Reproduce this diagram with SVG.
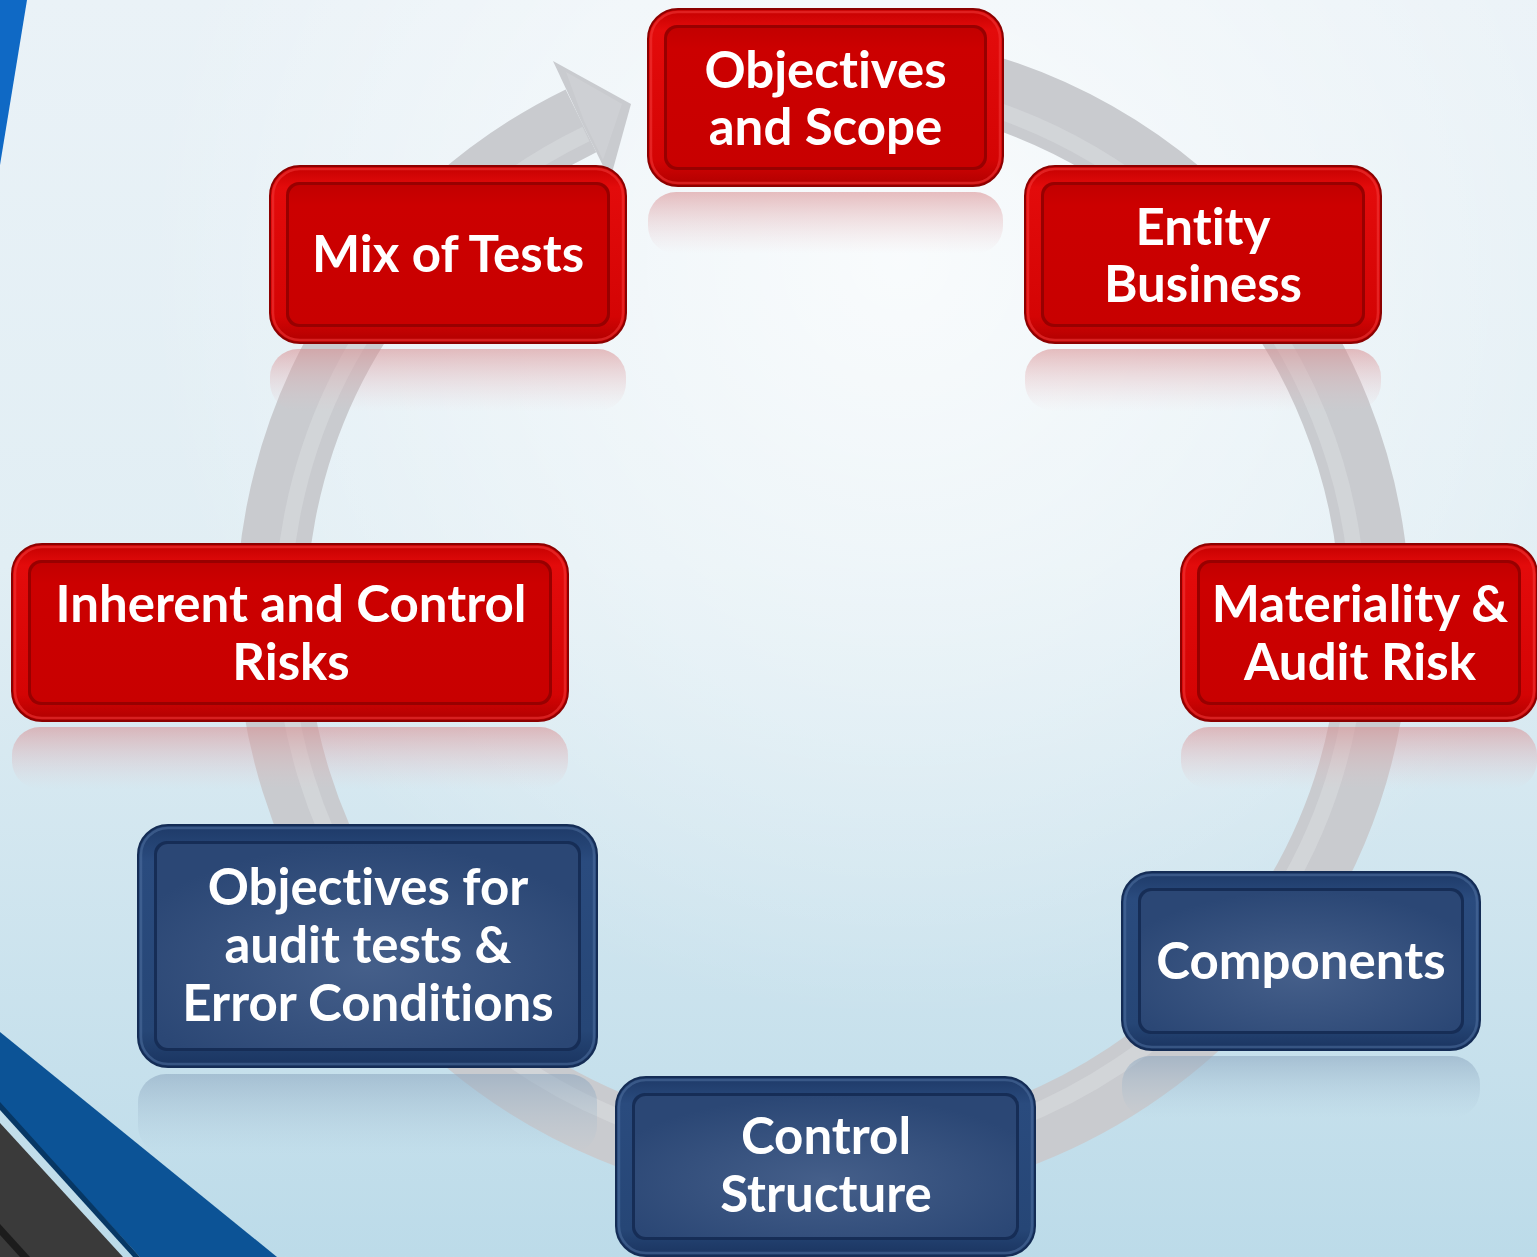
<svg xmlns="http://www.w3.org/2000/svg" width="1537" height="1257" viewBox="0 0 1537 1257">
  <style>
    .lbl { font-family: Lato, "Open Sans", "Liberation Sans", sans-serif; font-weight: 700; font-size: 51px; fill: #ffffff; text-anchor: middle; font-variant-ligatures: none; font-feature-settings: "liga" 0; }
    .red-rim { fill: url(#gRedRim); stroke: #8c0000; stroke-width: 2; }
    .red-hi { fill: none; stroke: #f23a3a; stroke-width: 2.5; opacity: 0.55; }
    .red-groove { fill: #980000; }
    .red-panel { fill: url(#gRedPanel); }
    .blue-rim { fill: url(#gBlueRim); stroke: #142c55; stroke-width: 2; }
    .blue-hi { fill: none; stroke: #4f6f9f; stroke-width: 2.5; opacity: 0.55; }
    .blue-groove { fill: #162d56; }
    .blue-panel { fill: url(#gBluePanel); }
    .refl-red { fill: url(#gReflRed); }
    .refl-blue { fill: url(#gReflBlue); }
  </style>
  <defs>
    <linearGradient id="gBg" x1="0" y1="0" x2="0" y2="1">
      <stop offset="0" stop-color="#eaf2f7"/>
      <stop offset="0.45" stop-color="#e1eef4"/>
      <stop offset="1" stop-color="#bcdbe9"/>
    </linearGradient>
    <radialGradient id="gGlow" cx="900" cy="260" r="760" gradientUnits="userSpaceOnUse">
      <stop offset="0" stop-color="#ffffff" stop-opacity="0.75"/>
      <stop offset="0.6" stop-color="#ffffff" stop-opacity="0.3"/>
      <stop offset="1" stop-color="#ffffff" stop-opacity="0"/>
    </radialGradient>
    <linearGradient id="gRedRim" x1="0" y1="0" x2="0" y2="1">
      <stop offset="0" stop-color="#c40000"/>
      <stop offset="0.12" stop-color="#e30b0b"/>
      <stop offset="0.85" stop-color="#d40404"/>
      <stop offset="1" stop-color="#b00000"/>
    </linearGradient>
    <linearGradient id="gRedPanel" x1="0" y1="0" x2="0" y2="1">
      <stop offset="0" stop-color="#c20000"/>
      <stop offset="0.15" stop-color="#cc0000"/>
      <stop offset="1" stop-color="#c80000"/>
    </linearGradient>
    <linearGradient id="gBlueRim" x1="0" y1="0" x2="0" y2="1">
      <stop offset="0" stop-color="#1e3a68"/>
      <stop offset="0.15" stop-color="#2a4b7e"/>
      <stop offset="0.85" stop-color="#264676"/>
      <stop offset="1" stop-color="#1a3460"/>
    </linearGradient>
    <radialGradient id="gBluePanel" cx="0.5" cy="0.6" r="0.6">
      <stop offset="0" stop-color="#455f8a"/>
      <stop offset="1" stop-color="#2b4775"/>
    </radialGradient>
    <linearGradient id="gReflRed" x1="0" y1="0" x2="0" y2="1">
      <stop offset="0" stop-color="#d88a8c" stop-opacity="0.55"/>
      <stop offset="1" stop-color="#e8c0c4" stop-opacity="0"/>
    </linearGradient>
    <linearGradient id="gReflBlue" x1="0" y1="0" x2="0" y2="1">
      <stop offset="0" stop-color="#8aa4bd" stop-opacity="0.55"/>
      <stop offset="1" stop-color="#aac4d6" stop-opacity="0"/>
    </linearGradient>
  </defs>

  <!-- backdrop -->
  <rect x="0" y="0" width="1537" height="1257" fill="url(#gBg)"/>
  <rect x="0" y="0" width="1537" height="1257" fill="url(#gGlow)"/>

  <!-- corner accents -->
  <polygon points="0,0 27,0 0,165" fill="#0f69c5"/>
  <polygon points="0,1032 277,1257 140,1257 0,1105" fill="#0c5396"/>
  <polygon points="0,1102 140,1257 133,1257 0,1110" fill="#073764"/>
  <polygon points="0,1123 123,1257 0,1257" fill="#3a3a3a"/>
  <polygon points="0,1224 30,1257 20,1257 0,1235" fill="#1c1c1c"/>

  <!-- cycle connector: circular arrow running clockwise back to the first step -->
  <g id="connectors">
    <path d="M 965.9 83.8 A 552 552 0 1 1 581 120.9" fill="none" stroke="#c9cbcf" stroke-width="70"/>
    <path d="M 957 98 A 538 538 0 1 1 586 134" fill="none" stroke="#d6d8db" stroke-width="16" opacity="0.7"/>
    <polygon points="553,61 631,104 610,180 581,121" fill="#c9cbcf"/>
    <polygon points="566,72 622,104 603,160 584,121" fill="#d2d4d7" opacity="0.6"/>
  </g>

  <!-- step 1 -->
  <g id="node-objectives-scope" transform="translate(648,9)">
    <rect class="refl-red" x="0" y="183" width="355" height="62" rx="28"/>
    <rect class="red-rim" x="0" y="0" width="355" height="177" rx="30"/>
    <rect class="red-hi" x="3" y="3" width="349" height="171" rx="27"/>
    <rect class="red-groove" x="16" y="16" width="323" height="145" rx="13"/>
    <rect class="red-panel" x="19" y="19" width="317" height="139" rx="11"/>
    <text class="lbl" x="177.5" y="79">Objectives</text>
    <text class="lbl" x="177.5" y="136">and Scope</text>
  </g>

  <!-- step 2 -->
  <g id="node-entity-business" transform="translate(1025,166)">
    <rect class="refl-red" x="0" y="183" width="356" height="62" rx="28"/>
    <rect class="red-rim" x="0" y="0" width="356" height="177" rx="30"/>
    <rect class="red-hi" x="3" y="3" width="350" height="171" rx="27"/>
    <rect class="red-groove" x="16" y="16" width="324" height="145" rx="13"/>
    <rect class="red-panel" x="19" y="19" width="318" height="139" rx="11"/>
    <text class="lbl" x="178" y="79">Entity</text>
    <text class="lbl" x="178" y="136">Business</text>
  </g>

  <!-- step 3 -->
  <g id="node-materiality" transform="translate(1181,544)">
    <rect class="refl-red" x="0" y="183" width="356" height="62" rx="28"/>
    <rect class="red-rim" x="0" y="0" width="356" height="177" rx="30"/>
    <rect class="red-hi" x="3" y="3" width="350" height="171" rx="27"/>
    <rect class="red-groove" x="16" y="16" width="324" height="145" rx="13"/>
    <rect class="red-panel" x="19" y="19" width="318" height="139" rx="11"/>
    <text class="lbl" x="179" y="78">Materiality &amp;</text>
    <text class="lbl" x="179" y="136">Audit Risk</text>
  </g>

  <!-- step 4 -->
  <g id="node-components" transform="translate(1122,872)">
    <rect class="refl-blue" x="0" y="184" width="358" height="62" rx="28"/>
    <rect class="blue-rim" x="0" y="0" width="358" height="178" rx="30"/>
    <rect class="blue-hi" x="3" y="3" width="352" height="172" rx="27"/>
    <rect class="blue-groove" x="16" y="16" width="326" height="146" rx="13"/>
    <rect class="blue-panel" x="19" y="19" width="320" height="140" rx="11"/>
    <text class="lbl" x="179" y="107">Components</text>
  </g>

  <!-- step 5 -->
  <g id="node-control-structure" transform="translate(616,1077)">
    <rect class="blue-rim" x="0" y="0" width="419" height="179" rx="30"/>
    <rect class="blue-hi" x="3" y="3" width="413" height="173" rx="27"/>
    <rect class="blue-groove" x="16" y="16" width="387" height="147" rx="13"/>
    <rect class="blue-panel" x="19" y="19" width="381" height="141" rx="11"/>
    <text class="lbl" x="210" y="77">Control</text>
    <text class="lbl" x="210" y="135">Structure</text>
  </g>

  <!-- step 6 -->
  <g id="node-audit-objectives" transform="translate(138,825)">
    <rect class="refl-blue" x="0" y="249" width="459" height="80" rx="28"/>
    <rect class="blue-rim" x="0" y="0" width="459" height="242" rx="30"/>
    <rect class="blue-hi" x="3" y="3" width="453" height="236" rx="27"/>
    <rect class="blue-groove" x="16" y="16" width="427" height="210" rx="13"/>
    <rect class="blue-panel" x="19" y="19" width="421" height="204" rx="11"/>
    <text class="lbl" x="230" y="80">Objectives for</text>
    <text class="lbl" x="230" y="138">audit tests &amp;</text>
    <text class="lbl" x="230" y="196">Error Conditions</text>
  </g>

  <!-- step 7 -->
  <g id="node-inherent-control" transform="translate(12,544)">
    <rect class="refl-red" x="0" y="183" width="556" height="62" rx="28"/>
    <rect class="red-rim" x="0" y="0" width="556" height="177" rx="30"/>
    <rect class="red-hi" x="3" y="3" width="550" height="171" rx="27"/>
    <rect class="red-groove" x="16" y="16" width="524" height="145" rx="13"/>
    <rect class="red-panel" x="19" y="19" width="518" height="139" rx="11"/>
    <text class="lbl" x="279" y="78">Inherent and Control</text>
    <text class="lbl" x="279" y="136">Risks</text>
  </g>

  <!-- step 8 -->
  <g id="node-mix-of-tests" transform="translate(270,166)">
    <rect class="refl-red" x="0" y="183" width="356" height="62" rx="28"/>
    <rect class="red-rim" x="0" y="0" width="356" height="177" rx="30"/>
    <rect class="red-hi" x="3" y="3" width="350" height="171" rx="27"/>
    <rect class="red-groove" x="16" y="16" width="324" height="145" rx="13"/>
    <rect class="red-panel" x="19" y="19" width="318" height="139" rx="11"/>
    <text class="lbl" x="178" y="106">Mix of Tests</text>
  </g>
</svg>
